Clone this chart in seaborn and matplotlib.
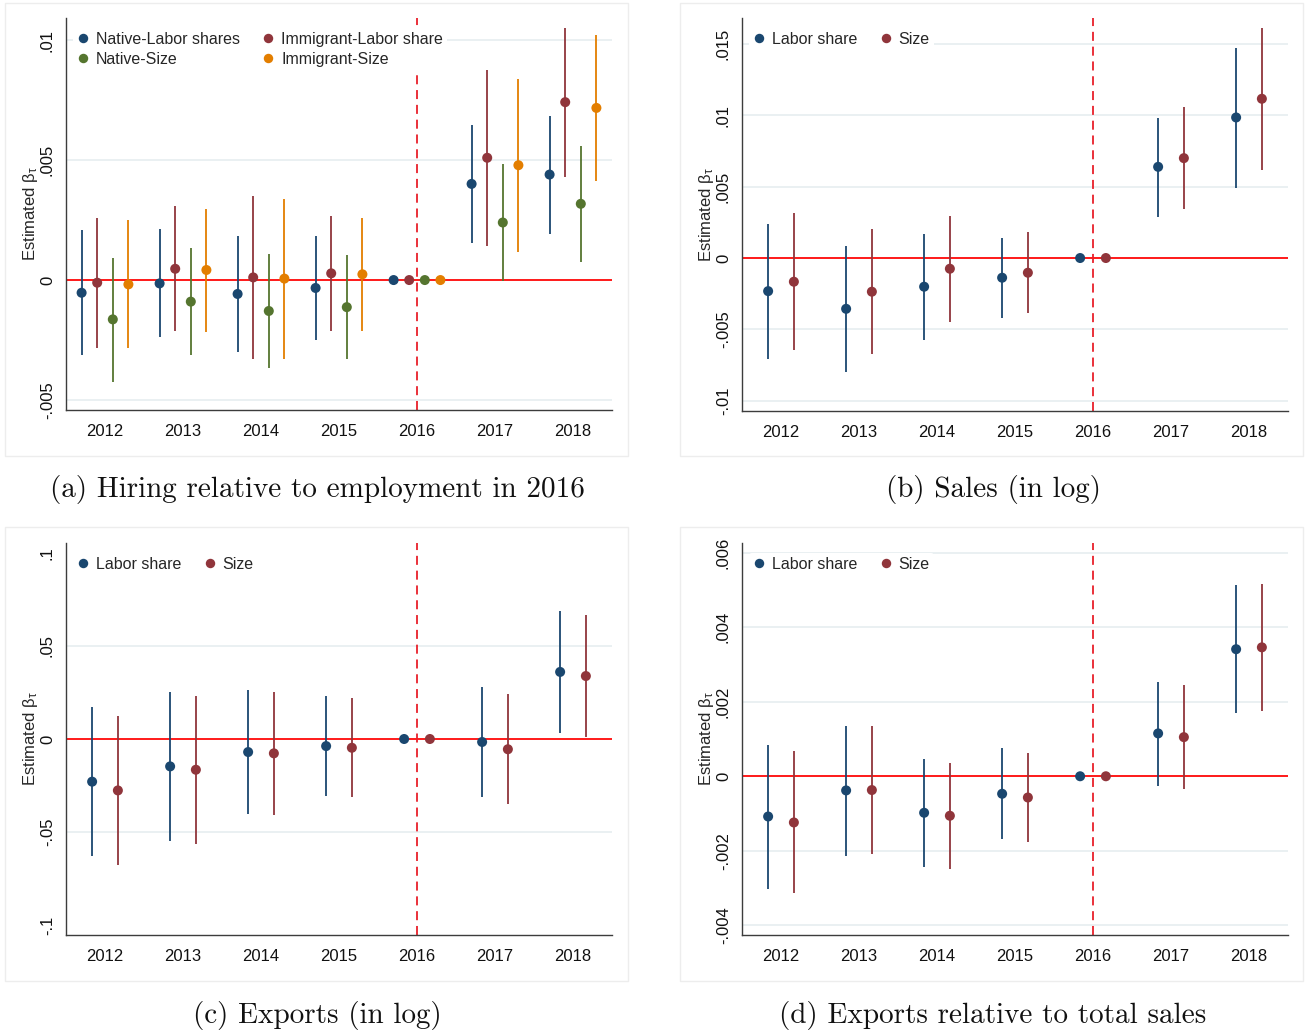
import numpy as np
import pandas as pd
import matplotlib
matplotlib.use("Agg")
import matplotlib.pyplot as plt
from matplotlib.lines import Line2D
from matplotlib.patches import Rectangle
from matplotlib.ticker import FixedLocator, FuncFormatter
import seaborn as sns

# ---------------------------------------------------------------- data
years = [2012, 2013, 2014, 2015, 2016, 2017, 2018]

# (a) Hiring relative to employment in 2016
a_native_labor = [-0.00053, -0.00014, -0.00058, -0.00033, 0.0, 0.00401, 0.00440]
a_native_labor_lo = [-0.00314, -0.00238, -0.00299, -0.00250, 0.0, 0.00153, 0.00194]
a_native_labor_hi = [0.00208, 0.00211, 0.00182, 0.00183, 0.0, 0.00647, 0.00683]

a_immig_labor = [-0.00011, 0.00047, 0.00011, 0.00028, 0.0, 0.00510, 0.00742]
a_immig_labor_lo = [-0.00282, -0.00212, -0.00329, -0.00211, 0.0, 0.00142, 0.00431]
a_immig_labor_hi = [0.00260, 0.00307, 0.00350, 0.00267, 0.0, 0.00878, 0.01051]

a_native_size = [-0.00164, -0.00090, -0.00129, -0.00113, 0.0, 0.00240, 0.00318]
a_native_size_lo = [-0.00424, -0.00314, -0.00367, -0.00331, 0.0, -0.00004, 0.00075]
a_native_size_hi = [0.00094, 0.00132, 0.00107, 0.00106, 0.0, 0.00486, 0.00561]

a_immig_size = [-0.00018, 0.00042, 0.00006, 0.00024, 0.0, 0.00479, 0.00718]
a_immig_size_lo = [-0.00285, -0.00215, -0.00329, -0.00214, 0.0, 0.00118, 0.00413]
a_immig_size_hi = [0.00250, 0.00297, 0.00339, 0.00258, 0.0, 0.00839, 0.01024]

# (b) Sales (in log)
b_labor = [-0.00232, -0.00356, -0.00201, -0.00138, 0.0, 0.00639, 0.00985]
b_labor_lo = [-0.00707, -0.00796, -0.00573, -0.00417, 0.0, 0.00290, 0.00494]
b_labor_hi = [0.00241, 0.00087, 0.00171, 0.00140, 0.0, 0.00983, 0.01474]
b_size = [-0.00166, -0.00236, -0.00075, -0.00103, 0.0, 0.00700, 0.01116]
b_size_lo = [-0.00646, -0.00676, -0.00447, -0.00384, 0.0, 0.00344, 0.00620]
b_size_hi = [0.00316, 0.00206, 0.00293, 0.00180, 0.0, 0.01058, 0.01612]

# (c) Exports (in log)
c_labor = [-0.0229, -0.0147, -0.0070, -0.0038, 0.0, -0.0016, 0.0360]
c_labor_lo = [-0.0628, -0.0549, -0.0401, -0.0304, 0.0, -0.0313, 0.0032]
c_labor_hi = [0.0170, 0.0252, 0.0261, 0.0229, 0.0, 0.0279, 0.0687]
c_size = [-0.0276, -0.0165, -0.0077, -0.0047, 0.0, -0.0055, 0.0338]
c_size_lo = [-0.0676, -0.0564, -0.0408, -0.0313, 0.0, -0.0351, 0.0011]
c_size_hi = [0.0122, 0.0233, 0.0252, 0.0220, 0.0, 0.0242, 0.0667]

# (d) Exports relative to total sales
d_labor = [-0.00108, -0.00038, -0.00098, -0.00047, 0.0, 0.00115, 0.00341]
d_labor_lo = [-0.00302, -0.00213, -0.00243, -0.00168, 0.0, -0.00025, 0.00169]
d_labor_hi = [0.00084, 0.00136, 0.00045, 0.00075, 0.0, 0.00254, 0.00513]
d_size = [-0.00124, -0.00037, -0.00106, -0.00057, 0.0, 0.00105, 0.00346]
d_size_lo = [-0.00314, -0.00209, -0.00248, -0.00177, 0.0, -0.00034, 0.00175]
d_size_hi = [0.00068, 0.00136, 0.00036, 0.00063, 0.0, 0.00244, 0.00517]

a_ticks = [-0.005, 0.0, 0.005, 0.01]
b_ticks = [-0.01, -0.005, 0.0, 0.005, 0.01, 0.015]
c_ticks = [-0.1, -0.05, 0.0, 0.05, 0.1]
d_ticks = [-0.004, -0.002, 0.0, 0.002, 0.004, 0.006]

captions = ["(a) Hiring relative to employment in 2016",
            "(b) Sales (in log)",
            "(c) Exports (in log)",
            "(d) Exports relative to total sales"]

# ---------------------------------------------------------------- style
sns.set_theme(style="white")
plt.rcParams["font.family"] = ["Liberation Sans", "DejaVu Sans"]

NAVY, MAROON, GREEN, ORANGE = "#1a476f", "#90353b", "#55752f", "#e37e00"
GRID = "#e6eef0"
AXC = "#3c3c3c"

W, H = 1309, 1032
fig = plt.figure(figsize=(W / 100, H / 100), dpi=100)


def add_axes_px(left, right, top, bottom):
    return fig.add_axes([left / W, 1 - bottom / H, (right - left) / W, (bottom - top) / H])


def stata_fmt(v, pos):
    if abs(v) < 1e-12:
        return "0"
    return f"{v:g}".replace("0.", ".")


def draw_panel(ax, series, offsets, ylim, yticks, gridticks, ncol, leg_anchor, colspace):
    rows = []
    for (name, color, est, lo, hi), off in zip(series, offsets):
        for yr, e, l, h in zip(years, est, lo, hi):
            rows.append(dict(series=name, x=yr + off, est=e, lo=l, hi=h))
    df = pd.DataFrame(rows)
    palette = {name: color for name, color, *_ in series}

    ax.set_xlim(2011.5, 2018.5)
    ax.set_ylim(*ylim)
    for g in gridticks:
        ax.axhline(g, color=GRID, lw=1.2, zorder=0)
    ax.axhline(0, color="#ff1a1a", lw=1.4, zorder=1)
    ax.axvline(2016, color="#e8202a", lw=1.3, ls=(0, (5, 3.2)), zorder=1)

    for name, color, *_ in series:
        sub = df[df.series == name]
        ax.vlines(sub.x, sub.lo, sub.hi, color=color, lw=1.3, zorder=2)
    sns.scatterplot(data=df, x="x", y="est", hue="series", palette=palette,
                    s=52, edgecolor="none", linewidth=0, ax=ax, zorder=3,
                    legend=False)

    ax.set_xlabel("")
    ax.set_ylabel(r"Estimated $\mathregular{\beta_\tau}$", fontsize=12)
    ax.yaxis.set_label_coords(-0.047, 0.5)
    ax.xaxis.set_major_locator(FixedLocator(years))
    ax.set_xticklabels([str(y) for y in years])
    ax.yaxis.set_major_locator(FixedLocator(yticks))
    ax.yaxis.set_major_formatter(FuncFormatter(stata_fmt))
    for lab in ax.get_yticklabels():
        lab.set_rotation(90)
        lab.set_va("center")
    ax.tick_params(axis="both", direction="out", length=5, width=1,
                   color=AXC, labelsize=12, labelcolor="#111111")
    ax.tick_params(axis="x", pad=5)
    ax.tick_params(axis="y", pad=3)
    for side in ("top", "right"):
        ax.spines[side].set_visible(False)
    for side in ("left", "bottom"):
        ax.spines[side].set_color(AXC)
        ax.spines[side].set_linewidth(1.0)

    handles = [Line2D([], [], marker="o", ls="", color=c, markersize=6.8,
                      markeredgewidth=0) for _, c, *_ in series]
    labels = [n for n, *_ in series]
    order = list(range(len(series)))
    if ncol == 2 and len(series) == 4:
        order = [0, 2, 1, 3]
    ax.legend([handles[i] for i in order], [labels[i] for i in order],
              loc="upper left", bbox_to_anchor=leg_anchor, ncol=ncol,
              frameon=True, facecolor="white", edgecolor="none", framealpha=1,
              fontsize=11.5, handlelength=0.8, handletextpad=0.4,
              columnspacing=colspace, borderpad=0.25, labelspacing=0.3,
              borderaxespad=0)


# ---------------------------------------------------------------- panels
ax_a = add_axes_px(66, 612, 18, 410)
draw_panel(ax_a,
           [("Native-Labor shares", NAVY, a_native_labor, a_native_labor_lo, a_native_labor_hi),
            ("Immigrant-Labor share", MAROON, a_immig_labor, a_immig_labor_lo, a_immig_labor_hi),
            ("Native-Size", GREEN, a_native_size, a_native_size_lo, a_native_size_hi),
            ("Immigrant-Size", ORANGE, a_immig_size, a_immig_size_lo, a_immig_size_hi)],
           [-0.3, -0.1, 0.1, 0.3], (-0.00542, 0.01093), a_ticks, a_ticks,
           2, (0.012, 0.975), 1.4)

ax_b = add_axes_px(742, 1288, 18, 411)
draw_panel(ax_b,
           [("Labor share", NAVY, b_labor, b_labor_lo, b_labor_hi),
            ("Size", MAROON, b_size, b_size_lo, b_size_hi)],
           [-0.165, 0.165], (-0.01072, 0.01682), b_ticks, b_ticks,
           2, (0.012, 0.975), 1.4)

ax_c = add_axes_px(66, 612, 543, 935)
draw_panel(ax_c,
           [("Labor share", NAVY, c_labor, c_labor_lo, c_labor_hi),
            ("Size", MAROON, c_size, c_size_lo, c_size_hi)],
           [-0.165, 0.165], (-0.1052, 0.1052), c_ticks, [-0.05, 0.05],
           2, (0.012, 0.975), 1.4)

ax_d = add_axes_px(742, 1288, 543, 935)
draw_panel(ax_d,
           [("Labor share", NAVY, d_labor, d_labor_lo, d_labor_hi),
            ("Size", MAROON, d_size, d_size_lo, d_size_hi)],
           [-0.165, 0.165], (-0.00426, 0.00626), d_ticks, d_ticks,
           2, (0.012, 0.975), 1.4)

# light frames around each graph region
for (l, r, t, b) in [(5, 628, 3, 456), (680, 1303, 3, 456),
                     (5, 628, 527, 981), (680, 1303, 527, 981)]:
    fig.patches.append(Rectangle((l / W, 1 - b / H), (r - l) / W, (b - t) / H,
                                 transform=fig.transFigure, fill=False,
                                 edgecolor="#ededed", lw=1.0, zorder=0))

# sub-figure captions
for (cx, cy), text in zip([(317, 490), (993, 490), (317, 1015), (993, 1015)], captions):
    fig.text(cx / W, 1 - cy / H, text, ha="center", va="center",
             fontsize=21, family=["cmr10", "DejaVu Serif"], color="#111111")

fig.savefig("out.png", dpi=100, facecolor="white")
